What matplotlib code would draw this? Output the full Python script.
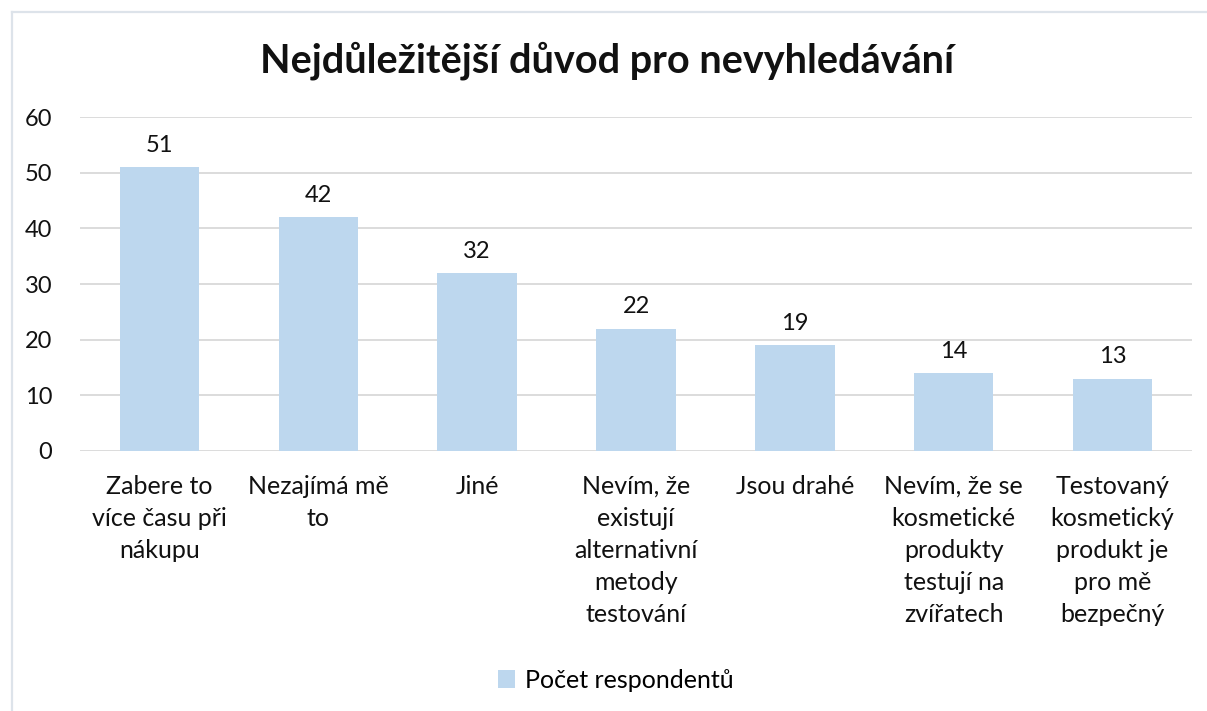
import matplotlib
matplotlib.use("Agg")
import matplotlib.pyplot as plt
from matplotlib.lines import Line2D

categories = [
    "Zabere to\nvíce času při\nnákupu",
    "Nezajímá mě\nto",
    "Jiné",
    "Nevím, že\nexistují\nalternativní\nmetody\ntestování",
    "Jsou drahé",
    "Nevím, že se\nkosmetické\nprodukty\ntestují na\nzvířatech",
    "Testovaný\nkosmetický\nprodukt je\npro mě\nbezpečný",
]
values = [51, 42, 32, 22, 19, 14, 13]
series_name = "Počet respondentů"
title = "Nejdůležitější důvod pro nevyhledávání"
yticks = [0, 10, 20, 30, 40, 50, 60]

plt.rcParams['font.family'] = ['Lato', 'DejaVu Sans']

fig = plt.figure(figsize=(12.07, 7.11), dpi=100)
ax = fig.add_axes([0.0663, 0.3657, 0.9213, 0.4697])

bar_color = "#BDD7EE"
x = list(range(len(categories)))
bars = ax.bar(x, values, width=0.5, color=bar_color, label=series_name, zorder=3)
for xi, v in zip(x, values):
    ax.text(xi, v + 2.0, str(v), ha="center", va="bottom", fontsize=17, color="#111111")

ax.set_xlim(-0.5, len(categories) - 0.5)
ax.set_ylim(0, 60)
ax.set_yticks(yticks)
ax.set_yticklabels([str(t) for t in yticks], fontsize=17, color="#111111")
ax.set_xticks(x)
ax.set_xticklabels(categories, fontsize=18, color="#111111", linespacing=1.48, va="top")
ax.tick_params(axis="both", length=0)
ax.tick_params(axis="y", pad=20)
ax.tick_params(axis="x", pad=17)
ax.yaxis.grid(True, color="#D9D9D9", linewidth=1.3, zorder=0)
for s in ax.spines.values():
    s.set_visible(False)

fig.text(0.503, 0.915, title, ha="center", va="center", fontsize=28.5, fontweight="bold", color="#111111")

leg = fig.legend(handles=[bars], labels=[series_name], loc="center", bbox_to_anchor=(0.51, 0.043),
                 frameon=False, fontsize=18, handlelength=0.7, handleheight=0.7, handletextpad=0.4)

# chart frame: only left and top edges visible (cropped screenshot)
bx, by = 11.5 / 1207, 1 - 11.5 / 711
fig.add_artist(Line2D([bx, bx], [0, by], transform=fig.transFigure, color="#DDE3EA", linewidth=1.6))
fig.add_artist(Line2D([bx, 1], [by, by], transform=fig.transFigure, color="#DDE3EA", linewidth=1.6))

fig.savefig("out.png", dpi=100)
